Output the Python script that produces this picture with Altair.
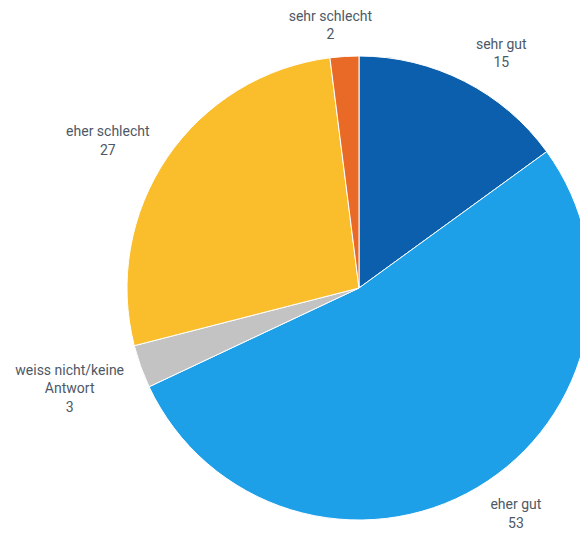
import altair as alt
import pandas as pd

categories = ["sehr gut", "eher gut", "weiss nicht/keine\nAntwort", "eher schlecht", "sehr schlecht"]
values = [15, 53, 3, 27, 2]
colors = ["#0c5fad", "#1ea0e9", "#c3c3c3", "#fabd2b", "#e86a26"]
label_side = ["right", "bottom", "lowleft", "left", "top"]

df = pd.DataFrame({
    "cat": categories,
    "value": values,
    "order": list(range(len(categories))),
    "side": label_side,
})
df["label"] = df["cat"] + "\n" + df["value"].astype(str)

cx, cy = 351, 280

base = alt.Chart(df).encode(
    theta=alt.Theta("value:Q", stack=True),
    order=alt.Order("order:Q"),
)

pie = base.mark_arc(radius=232, stroke="white", strokeWidth=1).encode(
    x=alt.value(cx),
    y=alt.value(cy),
    color=alt.Color("cat:N", scale=alt.Scale(domain=categories, range=colors), legend=None),
)

side_offsets = {
    "right": (22, -7),
    "bottom": (22, -11),
    "left": (-32, -7),
    "lowleft": (-40, -7),
    "top": (-12, -7),
}
texts = []
for side, (dx, dy) in side_offsets.items():
    texts.append(
        base.mark_text(
            radius=265, dx=dx, dy=dy, lineBreak="\n", font="Roboto", fontSize=14,
            color="#4d5866", align="center", baseline="middle", lineHeight=18.5,
        ).encode(
            x=alt.value(cx),
            y=alt.value(cy),
            text="label:N",
            opacity=alt.condition(alt.datum.side == side, alt.value(1), alt.value(0)),
        )
    )

chart = alt.layer(pie, *texts).properties(
    width=572, height=522, padding=0, autosize=alt.AutoSizeParams(type="none")
).configure_view(stroke=None)

chart.save("out.html", embed_options={"renderer": "svg", "actions": False})
